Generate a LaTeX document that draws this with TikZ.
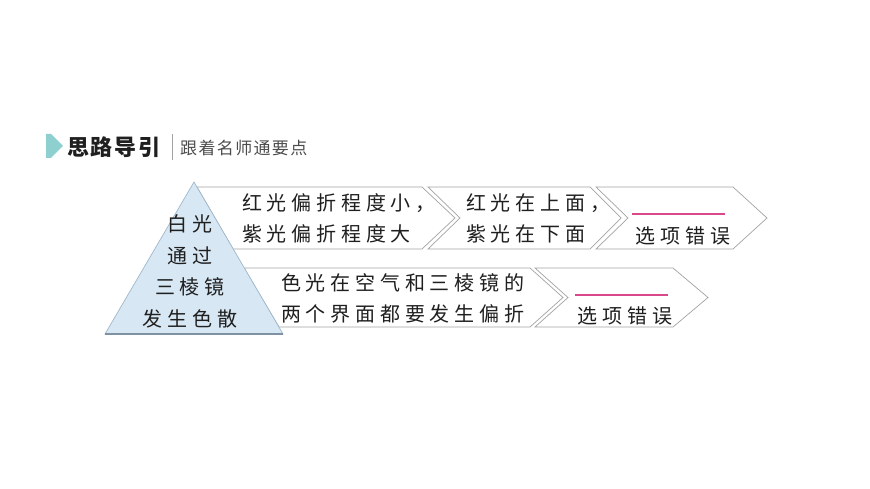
\documentclass[tikz,border=0pt]{standalone}
\usepackage{fontspec}
\setmainfont{Noto Sans CJK SC}
\newfontfamily\kaifont[LetterSpace=24]{Noto Sans CJK SC}
\newfontfamily\headfont[LetterSpace=8]{Noto Sans CJK SC}
\newfontfamily\subfont[LetterSpace=8]{Noto Sans CJK SC}
\definecolor{prismfill}{HTML}{D7E7F3}
\definecolor{prismedge}{HTML}{9FB7CC}
\definecolor{chevgray}{HTML}{A3A3A3}
\definecolor{markteal}{HTML}{8ECFD0}
\definecolor{blankpink}{HTML}{D9488A}
\begin{document}
\begin{tikzpicture}[x=1pt, y=-1pt,
          every node/.style={inner sep=0pt, text=black!88},
          chev/.style={draw=chevgray, line width=0.7pt, fill=white},
          body/.style={font=\kaifont\fontsize{20}{31}\selectfont, align=left, anchor=west},
          prismtext/.style={font=\kaifont\fontsize{20}{31.5}\selectfont, align=center},
          blank/.style={draw=blankpink, line width=1.3pt}]
        \useasboundingbox (0,0) rectangle (870,489);
        % header
        \fill[markteal] (46,134) -- (51,134) -- (63,146) -- (51,158) -- (46,158) -- cycle;
        \node[font=\headfont\bfseries\fontsize{22}{22}\selectfont, anchor=west] (title) at (67,147) {思路导引};
        \draw[chevgray, line width=1pt] (172,134) -- (172,160);
        \node[font=\subfont\fontsize{17}{17}\selectfont, anchor=west, text=black!70] (subtitle) at (180,148) {跟着名师通要点};
        % first row
        \draw[chev] (197,187) -- (422,187) -- (455,218) -- (422,249) -- (233,249) -- cycle;
        \draw[chev] (428,187) -- (590,187) -- (621,218) -- (590,249) -- (428,249) -- (460,218) -- cycle;
        \draw[chev] (596,187) -- (733,187) -- (767,218) -- (733,249) -- (596,249) -- (628,218) -- cycle;
        % second row
        \draw[chev] (244,268) -- (530,268) -- (563,297.5) -- (530,327) -- (279,327) -- cycle;
        \draw[chev] (535,268) -- (673,268) -- (708,297.5) -- (673,327) -- (535,327) -- (568,297.5) -- cycle;
        % prism
        \filldraw[fill=prismfill, draw=prismedge, line width=0.7pt] (194,182) -- (283,334) -- (105,334) -- cycle;
        \draw[prismedge!80!black, line width=1.5pt] (105,334) -- (283,334);
        \node[prismtext] (prism) at (190,271.5) {白光\\通过\\三棱镜\\发生色散};
        % texts
        \node[body] (bend) at (242,218.5) {红光偏折程度小，\\紫光偏折程度大};
        \node[body] (order) at (466,218.5) {红光在上面，\\紫光在下面};
        \draw[blank] (632,214) -- (725,214) coordinate (blankA);
        \node[body, anchor=center] (wrongA) at (683,236) {选项错误};
        \node[body] (surface) at (281,298) {色光在空气和三棱镜的\\两个界面都要发生偏折};
        \draw[blank] (575,295) -- (668,295) coordinate (blankB);
        \node[body, anchor=center] (wrongB) at (625,316) {选项错误};
      \end{tikzpicture}
\end{document}
